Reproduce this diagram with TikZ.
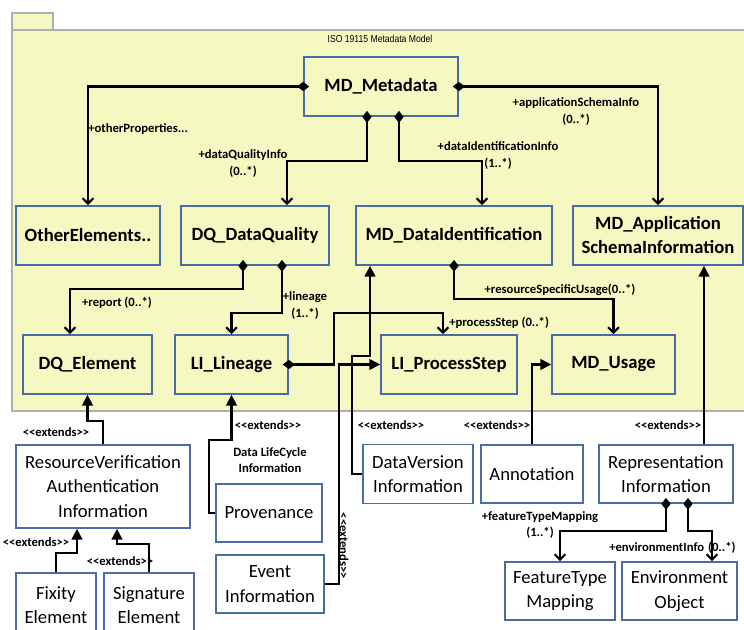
\documentclass[tikz,border=0pt]{standalone}
\usepackage{fontspec}
\setmainfont{Carlito}
\newfontfamily\titlefont[FakeStretch=0.85]{Liberation Sans}
\usetikzlibrary{arrows.meta,calc}
\definecolor{pkgfill}{RGB}{245,248,192}
\definecolor{pkgline}{RGB}{175,175,175}
\definecolor{boxline}{RGB}{74,108,166}
\newcommand{\extendstxt}{<\kern0pt<extends>\kern0pt>}
\tikzset{
  cls/.style={draw=boxline,line width=1.3pt,fill=pkgfill,align=center,inner sep=0pt,
    font=\fontsize{14}{18}\selectfont\bfseries},
  ext/.style={draw=boxline,line width=1.3pt,fill=white,align=center,inner sep=0pt,
    font=\fontsize{14}{18.4}\selectfont},
  wh/.style 2 args={minimum width=#1*0.75pt,minimum height=#2*0.75pt},
  comp/.style={line width=1.6pt,{Diamond[length=9pt,width=7pt]}-{Straight Barb[length=4pt,width=8pt]},shorten <=-4.5pt},
  extarrow/.style={line width=1.6pt,-{Triangle[length=8pt,width=8pt]}},
  lbl/.style={font=\fontsize{9.5}{12.5}\selectfont\bfseries,align=center,inner sep=0pt},
}
\begin{document}
\begin{tikzpicture}[x=0.75pt,y=-0.75pt]
\useasboundingbox (0,0) rectangle (744,630);
% package
\filldraw[fill=pkgfill,draw=pkgline,line width=1pt] (12,13) rectangle (53,30);
\filldraw[fill=pkgfill,draw=pkgline,line width=1pt] (12,30) rectangle (750,411);
\node[font=\titlefont\fontsize{7.6}{8}\selectfont] (title) at (380,39) {ISO 19115 Metadata Model};

% classes in the model
\node[cls,wh={154}{59}] (md) at (381,86.5) {MD\_Metadata};
\node[cls,wh={144}{59}] (oe) at (88,235.5) {OtherElements..};
\node[cls,wh={148}{59}] (dq) at (255,235.5) {DQ\_DataQuality};
\node[cls,wh={196}{59}] (mdi) at (454,235.5) {MD\_DataIdentification};
\node[cls,wh={170}{59}] (mas) at (658,235.5) {MD\_Application\\SchemaInformation};
\node[cls,wh={129}{59}] (dqe) at (87.5,364.5) {DQ\_Element};
\node[cls,wh={113}{59}] (li) at (231.5,364.5) {LI\_Lineage};
\node[cls,wh={136}{59}] (ps) at (449,364.5) {LI\_ProcessStep};
\node[cls,wh={123}{59}] (use) at (613.5,364.5) {MD\_Usage};

% extensions
\node[ext,wh={174}{83}] (rvai) at (103,486.5) {ResourceVerification\\Authentication\\Information};
\node[ext,wh={80}{64}] (fix) at (56,605) {Fixity\\Element};
\node[ext,wh={90}{64}] (sig) at (149,605) {Signature\\Element};
\node[ext,wh={106}{58}] (prov) at (269,513) {Provenance};
\node[ext,wh={108}{58}] (evt) at (270,584) {Event\\Information};
\node[ext,wh={110}{59}] (dv) at (418,474) {DataVersion\\Information};
\node[ext,wh={102}{58}] (ann) at (532,474) {Annotation};
\node[ext,wh={134}{58}] (rep) at (666,474) {Representation\\Information};
\node[ext,wh={110}{58}] (ftm) at (560,591) {FeatureType\\Mapping};
\node[ext,wh={115}{58}] (eo) at (679.5,591) {Environment\\Object};

% associations
\draw[comp] (md.west) -| (oe.north);
\draw[comp] ($(md.south)+(-14,0)$) |- ($(dq.north)+(32,-44)$) -- ($(dq.north)+(32,0)$);
\draw[comp] ($(md.south)+(18,0)$) |- ($(mdi.north)+(28,-44)$) -- ($(mdi.north)+(28,0)$);
\draw[comp] (md.east) -| (mas.north);
\draw[comp] ($(dq.south)+(-12,0)$) |- ($(dqe.north)+(-17.5,-45)$) -- ($(dqe.north)+(-17.5,0)$);
\draw[comp] ($(dq.south)+(27,0)$) |- ($(li.north)+(0,-21)$) -- (li.north);
\draw[comp] (mdi.south) |- ($(use.north)+(0,-35)$) -- (use.north);
\draw[comp] (li.east) -- ++(45,0) |- ($(ps.north)+(-6,-21)$) -- ($(ps.north)+(-6,0)$);
\draw[comp] (rep.south) |- ($(ftm.north)+(0,-30)$) -- (ftm.north);
\draw[comp] ($(rep.south)+(22,0)$) |- ($(eo.north)+(32.5,-30)$) -- ($(eo.north)+(32.5,0)$);

% extends
\draw[extarrow] (rvai.north) |- ($(dqe.south)+(0,26)$) -- (dqe.south);
\draw[extarrow] (fix.north) |- ($(rvai.south)+(-26,24)$) -- ($(rvai.south)+(-26,0)$);
\draw[extarrow] (sig.north) |- ($(rvai.south)+(14,15)$) -- ($(rvai.south)+(14,0)$);
\draw[extarrow] (prov.west) -- ++(-6,0) |- ($(li.south)+(0,45)$) -- (li.south);
\draw[extarrow] (evt.east) -- ++(14,0) |- (ps.west);
\draw[extarrow] (dv.west) -- ++(-10,0) |- ($(mdi.south)+(-84,90)$) -- ($(mdi.south)+(-84,0)$);
\draw[extarrow] (ann.north) |- (use.west);
\draw[extarrow] ($(rep.north)+(38,0)$) -- ($(mas.south)+(46,0)$);

% labels
\node[lbl,anchor=west] (l1) at (88,129) {+otherProperties...};
\node[lbl] (l2) at (243,163.5) {+dataQualityInfo\\(0..*)};
\node[lbl] (l3) at (498,155.5) {+dataIdentificationInfo\\(1..*)};
\node[lbl] (l4) at (576,111.5) {+applicationSchemaInfo\\(0..*)};
\node[lbl] (l5) at (117,303) {+report (0..*)};
\node[lbl] (l6) at (305,305.5) {+lineage\\(1..*)};
\node[lbl] (l7) at (560,290) {+resourceSpecificUsage(0..*)};
\node[lbl,anchor=west] (l8) at (449,323) {+processStep (0..*)};
\node[lbl] (l9) at (540,525) {+featureTypeMapping\\(1..*)};
\node[lbl,anchor=west] (l10) at (609,548) {+environmentInfo\hspace{3pt}(0..*)};
\node[lbl] (x1) at (56,432) {\extendstxt};
\node[lbl] (x2) at (268,425) {\extendstxt};
\node[lbl] (x3) at (391,425) {\extendstxt};
\node[lbl] (x4) at (497,425) {\extendstxt};
\node[lbl] (x5) at (668,425) {\extendstxt};
\node[lbl] (x6) at (36,542) {\extendstxt};
\node[lbl] (x7) at (120,561) {\extendstxt};
\node[lbl,rotate=-90] (x8) at (344,546) {\extendstxt};
\node[lbl] (dlc) at (270,460) {Data LifeCycle\\Information};
\end{tikzpicture}
\end{document}
